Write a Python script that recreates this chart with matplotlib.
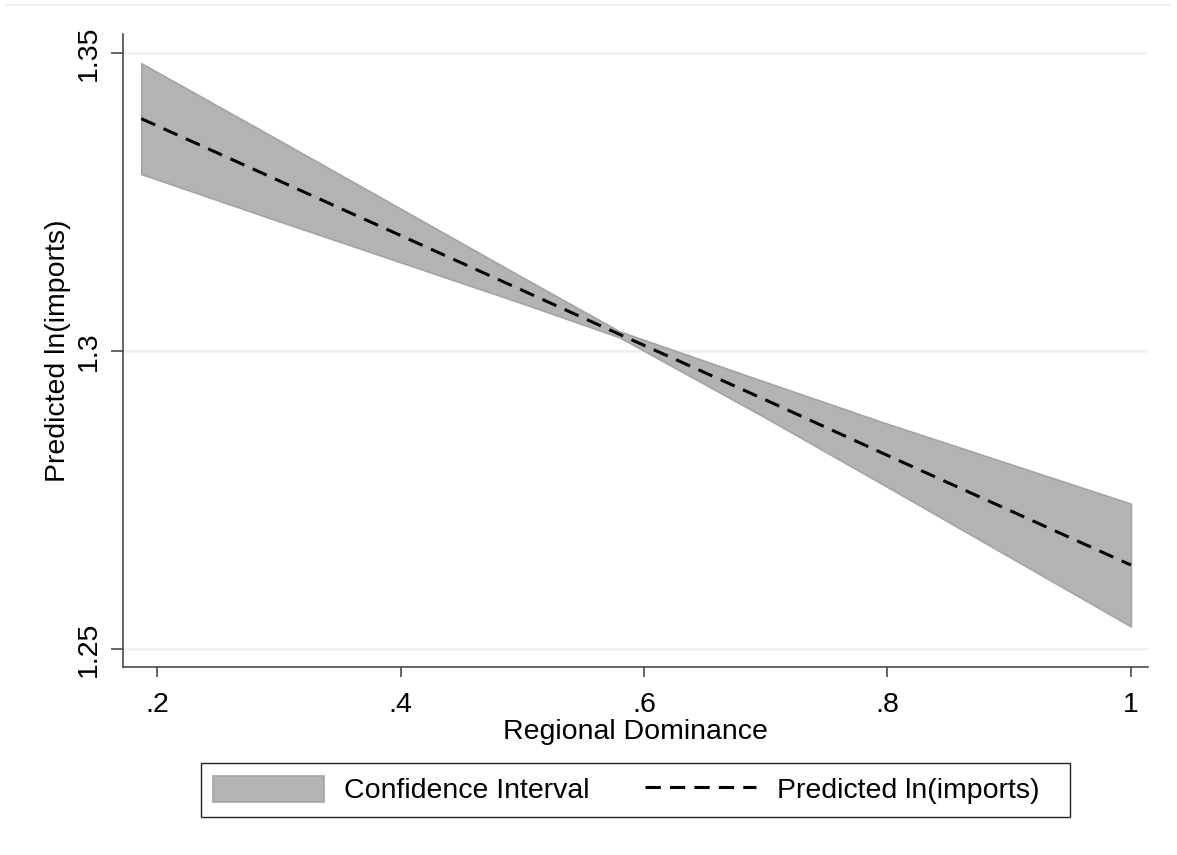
import matplotlib.pyplot as plt
from matplotlib.lines import Line2D
from matplotlib.patches import Rectangle

# values
dominance = [0.187, 0.3, 0.4, 0.5, 0.58, 0.7, 0.8, 0.9, 1.0]
predicted = [1.3390, 1.3286, 1.3194, 1.3102, 1.3028, 1.2918, 1.2825, 1.2733, 1.2641]
ci_upper = [1.3483, 1.3354, 1.3239, 1.3124, 1.3033, 1.2948, 1.2878, 1.2811, 1.2744]
ci_lower = [1.3297, 1.3218, 1.3149, 1.3080, 1.3023, 1.2888, 1.2772, 1.2655, 1.2538]

x_ticks = [0.2, 0.4, 0.6, 0.8, 1.0]
x_ticklabels = [".2", ".4", ".6", ".8", "1"]
y_ticks = [1.25, 1.30, 1.35]
y_ticklabels = ["1.25", "1.3", "1.35"]

plt.rcParams["font.family"] = ["Liberation Sans", "DejaVu Sans"]
FS = 20.5

W, H = 1177, 855
fig = plt.figure(figsize=(W / 100, H / 100), dpi=100)
ax = fig.add_axes([123 / W, 1 - 667 / H, (1148 - 123) / W, (667 - 34) / H])

ax.fill_between(dominance, ci_lower, ci_upper, facecolor="#b3b3b3",
                edgecolor="#a4a4a4", linewidth=1.2, label="Confidence Interval", zorder=2)
ax.plot(dominance, predicted, color="black", linewidth=2.2, dashes=(5, 3),
        label="Predicted ln(imports)", zorder=3)

ax.set_xlim(0.172, 1.014)
ax.set_ylim(1.247, 1.3532)
ax.set_xticks(x_ticks)
ax.set_xticklabels(x_ticklabels)
ax.set_yticks(y_ticks)
ax.set_yticklabels(y_ticklabels, rotation=90, va="center")
for y in y_ticks:
    ax.axhline(y, color="#eaf1f4", linewidth=1.8, zorder=0)

for side in ("top", "right"):
    ax.spines[side].set_visible(False)
for side in ("left", "bottom"):
    ax.spines[side].set_color("#3a3a3a")
    ax.spines[side].set_linewidth(1.1)
ax.tick_params(axis="y", length=9, width=1.1, color="#3a3a3a", labelsize=FS, pad=6.5)
ax.tick_params(axis="x", length=7.5, width=1.1, color="#3a3a3a", labelsize=FS, pad=10.5)

ax.set_xlabel("Regional Dominance", fontsize=FS, labelpad=1)
ax.set_ylabel("Predicted ln(imports)", fontsize=FS, labelpad=3)

# legend entries without their own frame; the box is drawn separately
leg = fig.legend(loc="center", bbox_to_anchor=(626 / W, 1 - 790 / H), ncol=2,
                 fontsize=FS, frameon=False,
                 handlelength=3.9, handleheight=1.05, handletextpad=0.72,
                 columnspacing=1.95, borderpad=0.4)
fig.add_artist(Rectangle((201 / W, 1 - 817 / H), (1070 - 201) / W, (817 - 763) / H,
                         transform=fig.transFigure, fill=False,
                         edgecolor="#222222", linewidth=1.0))

# faint outline of the outer graph region
fig.add_artist(Line2D([6 / W, 1171 / W], [1 - 5 / H, 1 - 5 / H],
                      color="#eef3f5", linewidth=1.5))

fig.savefig("out.png", dpi=100)
